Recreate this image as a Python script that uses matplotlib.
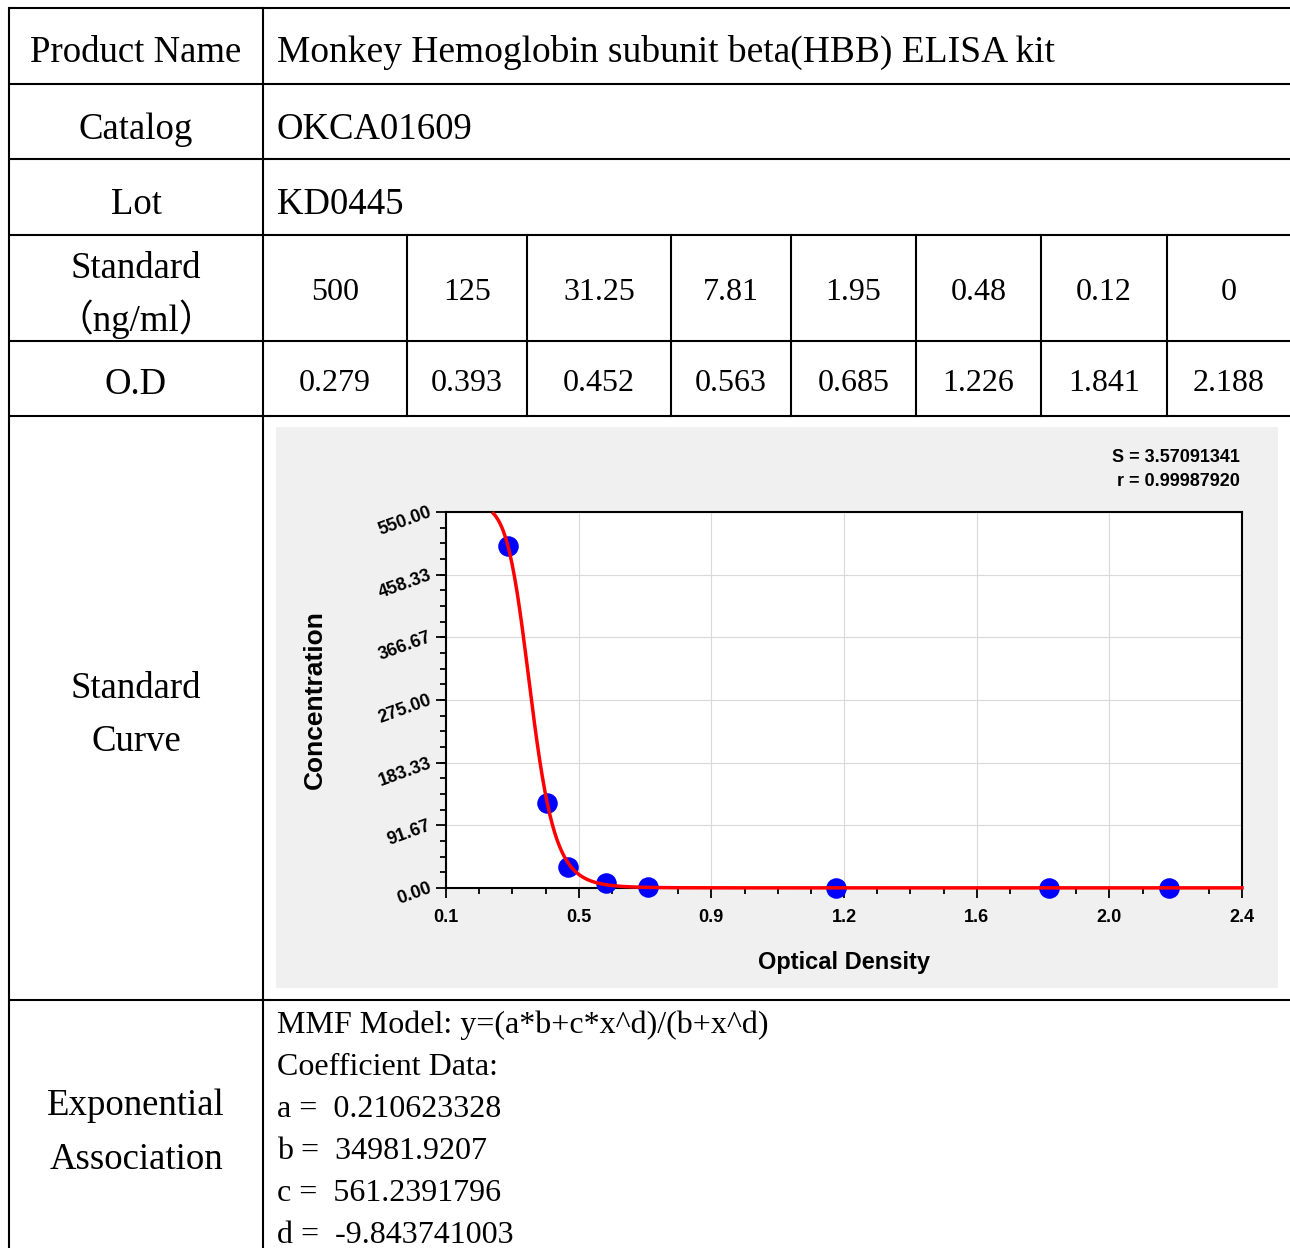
"""
ELISA kit standard curve sheet - table plus fitted curve
"""
import numpy as np
import matplotlib
matplotlib.use('Agg')
import matplotlib.pyplot as plt
from matplotlib.patches import Rectangle
from matplotlib.ticker import FixedLocator, AutoMinorLocator

# Table data
product_name = "Monkey Hemoglobin subunit beta(HBB) ELISA kit"
catalog = "OKCA01609"
lot = "KD0445"
standard_labels = ["500", "125", "31.25", "7.81", "1.95", "0.48", "0.12", "0"]
od_labels = ["0.279", "0.393", "0.452", "0.563", "0.685", "1.226", "1.841", "2.188"]

# Points on the curve
conc = [500, 125, 31.25, 7.81, 1.95, 0.48, 0.12, 0]
od = [0.279, 0.393, 0.452, 0.563, 0.685, 1.226, 1.841, 2.188]

# MMF fit coefficients
coef_a = 0.210623328
coef_b = 34981.9207
coef_c = 561.2391796
coef_d = -9.843741003
fit_s = "3.57091341"
fit_r = "0.99987920"

y_ticks = [0.00, 91.67, 183.33, 275.00, 366.67, 458.33, 550.00]
x_tick_labels = ["0.1", "0.5", "0.9", "1.2", "1.6", "2.0", "2.4"]

W, H = 1290, 1248
SERIF = ['Liberation Serif', 'Noto Sans CJK SC']
SANS = 'Liberation Sans'

fig = plt.figure(figsize=(W / 100, H / 100), dpi=100)
fig.patch.set_facecolor('white')

# full-figure axes in pixel units for the table
tab = fig.add_axes([0, 0, 1, 1])
tab.set_xlim(0, W)
tab.set_ylim(H, 0)
tab.axis('off')

lw = 1.5
col_x = [263, 407, 527, 671, 791, 916, 1041, 1167, W]
row_y = [8, 84, 159, 235, 341, 416, 1000]

# horizontal lines
for y in row_y:
    tab.plot([9, W], [y, y], color='black', lw=lw, solid_capstyle='butt')
# vertical lines
tab.plot([9, 9], [8, H], color='black', lw=lw)
tab.plot([263, 263], [8, H], color='black', lw=lw)
for x in col_x[1:-1]:
    tab.plot([x, x], [235, 416], color='black', lw=lw)

big = 26.5
num = 23

def label(x, y, s, size=big, ha='center'):
    tab.text(x, y, s, fontsize=size, family=SERIF, ha=ha, va='baseline')

label(136, 62, "Product Name")
label(136, 139, "Catalog")
label(136, 214, "Lot")
label(136, 278, "Standard")
label(136, 331, "（ng/ml）")
label(136, 394, "O.D")
label(136, 698, "Standard")
label(136, 751, "Curve")
label(136, 1115, "Exponential")
label(136, 1169, "Association")

label(277, 62, product_name, size=27, ha='left')
label(277, 139, catalog, ha='left')
label(277, 214, lot, ha='left')

for i in range(len(standard_labels)):
    cx = (col_x[i] + col_x[i + 1]) / 2
    label(cx, 300, standard_labels[i], size=num)
    label(cx, 391, od_labels[i], size=num)

model_lines = [
    "MMF Model: y=(a*b+c*x^d)/(b+x^d)",
    "Coefficient Data:",
    f"a =  {coef_a}",
    f"b =  {coef_b}",
    f"c =  {coef_c}",
    f"d =  {coef_d}",
]
for i, s in enumerate(model_lines):
    label(277, 1033 + i * 42, s, size=num, ha='left')

# grey chart panel
tab.add_patch(Rectangle((276, 427), 1002, 561, facecolor='#f0f0f0', edgecolor='none'))
tab.text(1240, 457, f"S = {fit_s}", fontsize=13, family=SANS, weight='bold',
         ha='right', va='center')
tab.text(1240, 481, f"r = {fit_r}", fontsize=13, family=SANS, weight='bold',
         ha='right', va='center')

# the chart itself
x0, x1, y0, y1 = 446, 1242, 512, 888
ax = fig.add_axes([x0 / W, 1 - y1 / H, (x1 - x0) / W, (y1 - y0) / H])
ax.set_facecolor('white')
ax.set_xlim(0.1, 2.4)
ax.set_ylim(0, 550)

xt = np.linspace(0.1, 2.4, 7)
ax.xaxis.set_major_locator(FixedLocator(xt))
ax.set_xticklabels(x_tick_labels)
ax.yaxis.set_major_locator(FixedLocator(y_ticks))
ax.set_yticklabels([f"{v:.2f}" for v in y_ticks])
ax.xaxis.set_minor_locator(AutoMinorLocator(4))
ax.yaxis.set_minor_locator(AutoMinorLocator(4))

ax.grid(True, which='major', color='#d9d9d9', lw=0.8)
ax.set_axisbelow(True)
for sp in ax.spines.values():
    sp.set_color('black')
    sp.set_linewidth(1.5)

ax.tick_params(which='major', direction='out', length=7, width=1.3,
               top=False, right=False)
ax.tick_params(axis='x', which='major', pad=8)
ax.tick_params(axis='y', which='major', pad=4)
ax.tick_params(which='minor', direction='out', length=4, width=1.3,
               top=False, right=False)
for t in ax.get_xticklabels():
    t.set_fontfamily(SANS)
    t.set_fontweight('bold')
    t.set_fontsize(13)
for t in ax.get_yticklabels():
    t.set_fontfamily(SANS)
    t.set_fontweight('bold')
    t.set_fontsize(13)
    t.set_rotation(20)
    t.set_rotation_mode('anchor')
    t.set_ha('right')
    t.set_va('center')

ax.set_xlabel("Optical Density", fontsize=17, family=SANS, weight='bold', labelpad=18)
ax.set_ylabel("Concentration", fontsize=19, family=SANS, weight='bold', labelpad=35)

# fitted curve from the MMF coefficients
xs = np.linspace(0.237, 2.4, 600)
ys = (coef_a * coef_b + coef_c * xs ** coef_d) / (coef_b + xs ** coef_d)
ax.scatter(od, conc, s=190, color='#0000ff', zorder=3, clip_on=False)
ax.plot(xs, ys, color='#ff0000', lw=2.5, zorder=4, clip_on=False)

plt.savefig('out.png', dpi=100, facecolor='white')
plt.close()
